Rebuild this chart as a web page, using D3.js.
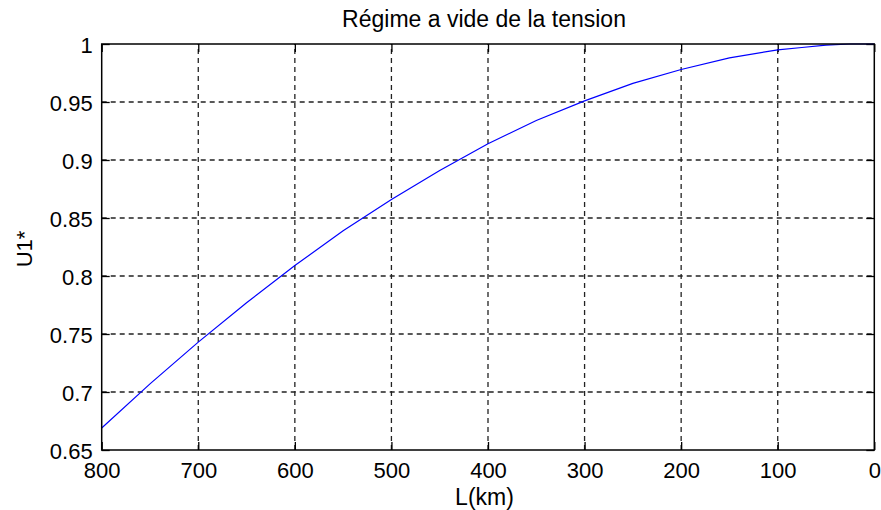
<!DOCTYPE html>
<html>
<head>
<meta charset="utf-8">
<script src="https://cdn.jsdelivr.net/npm/d3@7/dist/d3.min.js"></script>
<style>
  html, body { margin: 0; padding: 0; background: #fff; }
  svg { display: block; font-family: "Liberation Sans", Arial, sans-serif; }
</style>
</head>
<body>
<svg id="chart" width="881" height="510"></svg>
<script>
// Line length (km) and no-load voltage ratio U1*
const lengthKm = [800, 750, 700, 650, 600, 550, 500, 450, 400, 350, 300, 250, 200, 150, 100, 75, 50, 25, 0];
const u1 = [0.669, 0.707, 0.743, 0.777, 0.809, 0.839, 0.866, 0.891, 0.914, 0.934, 0.951, 0.966, 0.978, 0.988, 0.995, 0.997, 0.999, 1.000, 1.000];

const xTicks = [800, 700, 600, 500, 400, 300, 200, 100, 0];
const yTicks = [0.65, 0.7, 0.75, 0.8, 0.85, 0.9, 0.95, 1];
const yTickLabels = ["0.65", "0.7", "0.75", "0.8", "0.85", "0.9", "0.95", "1"];

const titleText = "Régime a vide de la tension";
const xLabel = "L(km)";
const yLabel = "U1*";

const svg = d3.select("#chart");
const plotLeft = 101.7, plotRight = 874.3, plotTop = 44, plotBottom = 450;
const fontSize = 22;
const tickLen = 8;

const x = d3.scaleLinear().domain([800, 0]).range([plotLeft, plotRight]);
const y = d3.scaleLinear().domain([0.65, 1]).range([plotBottom, plotTop]);

// grid
const grid = svg.append("g")
  .attr("stroke", "#222")
  .attr("stroke-width", 1.3)
  .attr("stroke-dasharray", "5,4");
grid.selectAll("line.v").data(xTicks.filter(d => d !== 800 && d !== 0)).enter()
  .append("line")
  .attr("x1", d => x(d)).attr("x2", d => x(d))
  .attr("y1", plotBottom).attr("y2", plotTop);
grid.selectAll("line.h").data(yTicks.filter(d => d !== 0.65 && d !== 1)).enter()
  .append("line")
  .attr("y1", d => y(d)).attr("y2", d => y(d))
  .attr("x1", plotLeft).attr("x2", plotRight);

// axes with inward ticks on all four sides
const axStyle = g => {
  g.select(".domain").remove();
  g.selectAll(".tick line").attr("stroke", "#000").attr("stroke-width", 1.3);
  g.selectAll("text").attr("font-size", fontSize).attr("fill", "#000")
    .attr("font-family", "Liberation Sans, Arial, sans-serif");
};

svg.append("g").attr("transform", `translate(0,${plotBottom})`)
  .call(d3.axisBottom(x).tickValues(xTicks).tickFormat(d3.format("d"))
    .tickSizeInner(-tickLen).tickSizeOuter(0).tickPadding(12))
  .call(axStyle);
svg.append("g").attr("transform", `translate(0,${plotTop})`)
  .call(d3.axisTop(x).tickValues(xTicks).tickFormat("")
    .tickSizeInner(-tickLen).tickSizeOuter(0))
  .call(axStyle);
svg.append("g").attr("transform", `translate(${plotLeft},0)`)
  .call(d3.axisLeft(y).tickValues(yTicks).tickFormat((d, i) => yTickLabels[i])
    .tickSizeInner(-tickLen).tickSizeOuter(0).tickPadding(9))
  .call(axStyle)
  .selectAll("text").attr("dy", "0.4em");
svg.append("g").attr("transform", `translate(${plotRight},0)`)
  .call(d3.axisRight(y).tickValues(yTicks).tickFormat("")
    .tickSizeInner(-tickLen).tickSizeOuter(0))
  .call(axStyle);

// data line
svg.append("path")
  .datum(lengthKm.map((d, i) => [d, u1[i]]))
  .attr("fill", "none")
  .attr("stroke", "#0000ff")
  .attr("stroke-width", 1.2)
  .attr("d", d3.line().x(d => x(d[0])).y(d => y(d[1])));

// frame
svg.append("rect")
  .attr("x", plotLeft).attr("y", plotTop)
  .attr("width", plotRight - plotLeft).attr("height", plotBottom - plotTop)
  .attr("fill", "none").attr("stroke", "#000").attr("stroke-width", 1.5);

// titles
svg.append("text")
  .attr("x", 484).attr("y", 27)
  .attr("text-anchor", "middle").attr("font-size", 23)
  .text(titleText);
svg.append("text")
  .attr("x", 484.5).attr("y", 505)
  .attr("text-anchor", "middle").attr("font-size", 23)
  .text(xLabel);
svg.append("text")
  .attr("transform", `translate(31.5,${(plotTop + plotBottom) / 2 + 2}) rotate(-90)`)
  .attr("text-anchor", "middle").attr("font-size", fontSize)
  .text(yLabel);
</script>
</body>
</html>
